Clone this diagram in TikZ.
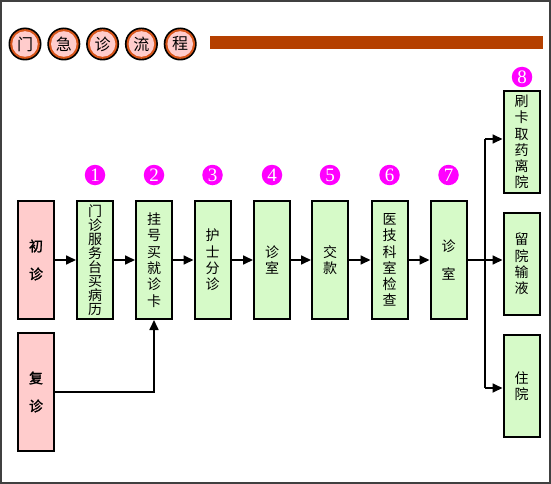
\documentclass[tikz,border=0pt]{standalone}
\usepackage{fontspec}
\newfontfamily\cjk{Noto Sans CJK SC}
\newfontfamily\cjkb[FakeBold=1.6]{Noto Sans CJK SC}
\newfontfamily\numfont{Liberation Serif}
\usetikzlibrary{arrows.meta}
\definecolor{pinkfill}{RGB}{255,204,204}
\definecolor{greenfill}{RGB}{214,250,200}
\definecolor{barcol}{RGB}{181,64,0}
\definecolor{ringcol}{RGB}{215,85,25}
\definecolor{mag}{RGB}{255,0,255}
\definecolor{framecol}{RGB}{64,64,64}
\begin{document}
\begin{tikzpicture}[x=1pt,y=-1pt,
 box/.style={draw=black,line width=2pt,minimum width=36pt,inner sep=0pt,align=center},
 gbox/.style={box,fill=greenfill,font=\cjk\fontsize{14}{16.3}\selectfont},
 wbox/.style={box,fill=greenfill,font=\cjk\fontsize{14}{28}\selectfont},
 pbox/.style={box,fill=pinkfill,font=\cjkb\fontsize{14}{28}\selectfont},
 num/.style={circle,fill=mag,minimum size=20.5pt,inner sep=0pt,text=white,font=\numfont\fontsize{19}{19}\selectfont},
 ttl/.style={circle,minimum size=25pt,inner sep=0pt,font=\cjk\fontsize{16}{16}\selectfont},
 arr/.style={line width=1.7pt,-{Triangle[length=10pt,width=9pt]}},
 ln/.style={line width=1.7pt}]
\useasboundingbox (0,0) rectangle (551,484);
\draw[framecol,line width=2pt] (1,1) rectangle (550,483);
% title
\foreach \i/\t in {0/门,1/急,2/诊,3/流,4/程}{
  \pgfmathsetmacro\xx{25+38.8*\i}
  \fill[black] (\xx,44) circle (16.5);
  \fill[ringcol] (\xx,44) circle (14.8);
  \fill[pinkfill] (\xx,44) circle (12.8);
  \node[ttl] (t\i) at (\xx,44) {\t};
}
\fill[barcol] (210,36) rectangle (543,49);
% boxes
\node[pbox,minimum height=118pt] (b0) at (36,260) {初\\诊};
\node[gbox,minimum height=118pt] (b1) at (95,260) {门\\[-2.3pt]诊\\[-2.3pt]服\\[-2.3pt]务\\[-2.3pt]台\\[-2.3pt]买\\[-2.3pt]病\\[-2.3pt]历};
\node[gbox,minimum height=118pt] (b2) at (154,260) {挂\\号\\买\\就\\诊\\卡};
\node[gbox,minimum height=118pt] (b3) at (212.5,260) {护\\士\\分\\诊};
\node[gbox,minimum height=118pt] (b4) at (272,260) {诊\\室};
\node[gbox,minimum height=118pt] (b5) at (330,260) {交\\款};
\node[gbox,minimum height=118pt] (b6) at (389.5,260) {医\\技\\科\\室\\检\\查};
\node[wbox,minimum height=118pt] (b7) at (448.5,260) {诊\\室};
\node[gbox,minimum height=102pt] (b8) at (521.5,142) {刷\\卡\\取\\药\\离\\院};
\node[gbox,minimum height=102pt] (rest) at (521.5,264) {留\\院\\输\\液};
\node[gbox,minimum height=102pt] (zhu) at (521.5,386) {住\\院};
\node[pbox,minimum height=118pt] (fz) at (36,392) {复\\诊};
% numbers
\node[num] (n1) at (95,175) {1};
\node[num] (n2) at (154,175) {2};
\node[num] (n3) at (212.5,175) {3};
\node[num] (n4) at (272,175) {4};
\node[num] (n5) at (330,175) {5};
\node[num] (n6) at (389.5,175) {6};
\node[num] (n7) at (448.5,175) {7};
\node[num] (n8) at (522,77) {8};
% connectors
\draw[arr] (b0.east) -- (b1.west);
\draw[arr] (b1.east) -- (b2.west);
\draw[arr] (b2.east) -- (b3.west);
\draw[arr] (b3.east) -- (b4.west);
\draw[arr] (b4.east) -- (b5.west);
\draw[arr] (b5.east) -- (b6.west);
\draw[arr] (b6.east) -- (b7.west);
\coordinate (j) at (485,262);
\draw[arr] (b7.east) -- (rest.west |- b7.east);
\draw[ln] (j |- 0,139) -- (j |- 0,388);
\draw[arr] (j |- 0,139) -- (b8.west |- 0,139);
\draw[arr] (j |- 0,388) -- (zhu.west |- 0,388);
\draw[arr] (fz.east) -| (b2.south);
\end{tikzpicture}
\end{document}
